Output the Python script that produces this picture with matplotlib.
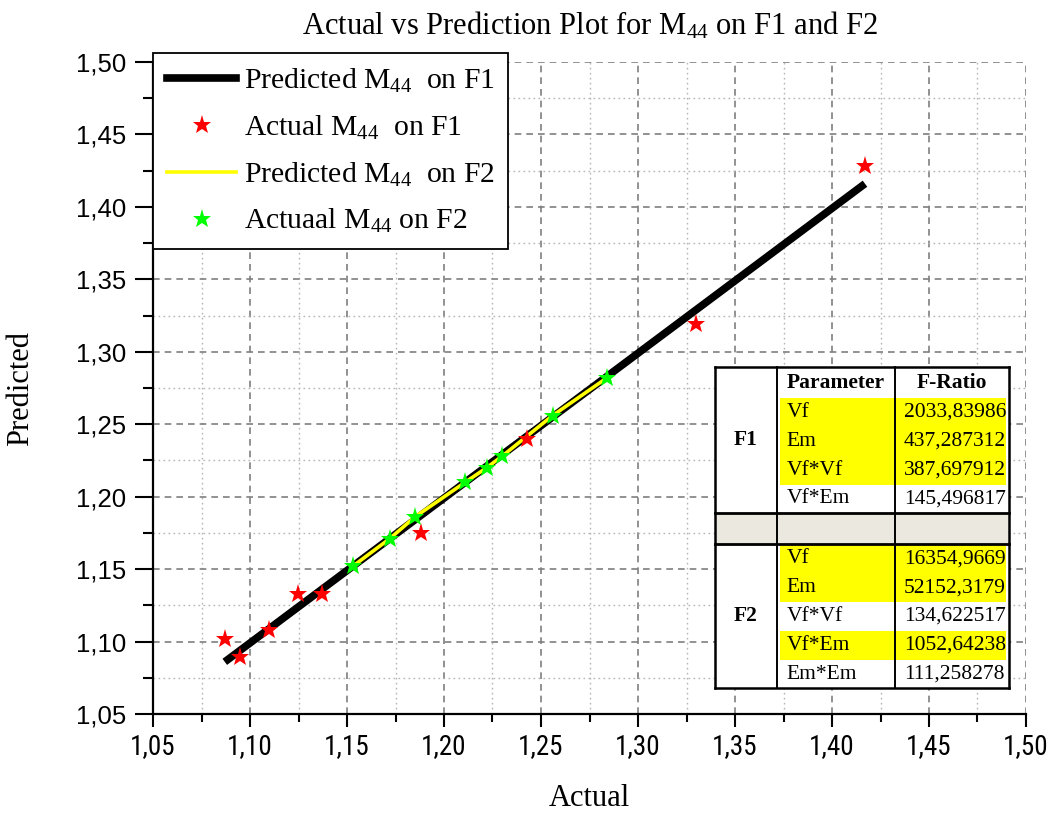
import matplotlib
matplotlib.use("Agg")
import matplotlib.pyplot as plt
from matplotlib.patches import Rectangle
from matplotlib.lines import Line2D
from matplotlib.ticker import MultipleLocator, FuncFormatter

plt.rcParams['mathtext.fontset'] = 'custom'
plt.rcParams['mathtext.rm'] = 'Liberation Serif'
plt.rcParams['mathtext.it'] = 'Liberation Serif:italic'
plt.rcParams['mathtext.bf'] = 'Liberation Serif:bold'

# F1 model: actual values, model line and measured points
f1_actual = [1.087, 1.095, 1.110, 1.125, 1.137, 1.188, 1.243, 1.330, 1.417]
f1_pred = [1.086, 1.094, 1.109, 1.124, 1.136, 1.187, 1.242, 1.329, 1.416]
f1_points = [1.102, 1.089, 1.108, 1.133, 1.133, 1.175, 1.240, 1.319, 1.428]

# F2 model
f2_actual = [1.153, 1.172, 1.185, 1.211, 1.222, 1.230, 1.256, 1.284]
f2_pred = [1.152, 1.171, 1.186, 1.210, 1.220, 1.228, 1.256, 1.282]

# ANOVA table
f1_params = ["Vf", "Em", "Vf*Vf", "Vf*Em"]
f1_ratio = ["2033,83986", "437,287312", "387,697912", "145,496817"]
f1_signif = [True, True, True, False]
f2_params = ["Vf", "Em", "Vf*Vf", "Vf*Em", "Em*Em"]
f2_ratio = ["16354,9669", "52152,3179", "134,622517", "1052,64238", "111,258278"]
f2_signif = [True, True, False, True, False]

SERIF = 'Liberation Serif'
SANS = 'Liberation Sans'
NARROW = ['Roboto Condensed', 'Archivo Narrow', 'PT Sans Narrow', 'Liberation Sans']
STAR = 14

fig = plt.figure(figsize=(10.47, 8.14), dpi=100)
ax = fig.add_axes([153 / 1047, 100 / 814, 873 / 1047, 652 / 814])

ax.plot(f1_actual, f1_pred, color='black', lw=5.5, solid_capstyle='butt', zorder=3)
ax.plot(f2_actual, f2_pred, color='#ffff00', lw=2.6, zorder=4)
ax.plot(f1_actual, f1_points, ls='none', marker='*', ms=STAR, mew=0, color='red', zorder=5)
ax.plot(f2_actual, f2_pred, ls='none', marker='*', ms=STAR, mew=0, color='#00ff00', zorder=6)

ax.set_xlim(1.05, 1.50)
ax.set_ylim(1.05, 1.50)
for axis in (ax.xaxis, ax.yaxis):
    axis.set_major_locator(MultipleLocator(0.05))
    axis.set_minor_locator(MultipleLocator(0.025))
    axis.set_major_formatter(FuncFormatter(lambda v, p: f"{v:.2f}".replace('.', ',')))

ax.grid(which='major', ls=(0, (4, 3)), color='#7f7f7f', lw=1.2, zorder=0)
ax.grid(which='minor', ls=(0, (1.2, 2.4)), color='#b5b5b5', lw=1.0, zorder=0)
ax.xaxis.get_major_ticks()[-1].gridline.set_visible(False)
ax.yaxis.get_major_ticks()[-1].gridline.set_visible(False)

for side in ('top', 'right'):
    ax.spines[side].set_visible(False)
for side in ('left', 'bottom'):
    ax.spines[side].set_linewidth(1.6)

ax.tick_params(axis='y', which='major', direction='out', length=13, width=1.5, pad=6)
ax.tick_params(axis='y', which='minor', direction='out', length=7, width=1.5)
ax.tick_params(axis='x', which='major', direction='out', length=9, width=1.5, pad=5)
ax.tick_params(axis='x', which='minor', direction='out', length=6, width=1.5)
for lab in ax.get_yticklabels():
    lab.set_fontfamily(SANS)
    lab.set_fontsize(18.5)
# condensed face on the x axis so the last label stays inside the canvas
for lab in ax.get_xticklabels():
    lab.set_fontfamily(NARROW)
    lab.set_fontsize(19.5)

ax.set_title("Actual vs Prediction Plot for M$_{44}$ on F1 and F2",
             fontfamily=SERIF, fontsize=22, pad=20)
ax.set_xlabel("Actual", fontfamily=SERIF, fontsize=22, labelpad=17)
ax.set_ylabel("Predicted", fontfamily=SERIF, fontsize=22, labelpad=30)

handles = [
    Line2D([], [], color='black', lw=5.5),
    Line2D([], [], ls='none', marker='*', ms=STAR, mew=0, color='red'),
    Line2D([], [], color='#ffff00', lw=2.6),
    Line2D([], [], ls='none', marker='*', ms=STAR, mew=0, color='#00ff00'),
]
labels = ["Predicted M$_{44}$  on F1", "Actual M$_{44}$  on F1",
          "Predicted M$_{44}$  on F2", "Actuaal M$_{44}$ on F2"]
leg = ax.legend(handles, labels, loc='upper left', bbox_to_anchor=(0, 1.014),
                borderaxespad=0, fancybox=False, framealpha=1, edgecolor='black',
                prop={'family': SERIF, 'size': 21.3}, handlelength=2.35,
                handletextpad=0.25, labelspacing=0.63, borderpad=0.47)
leg.get_frame().set_linewidth(1.3)
leg.set_zorder(10)

# table drawn in axes fraction coordinates
x0, x1, x2, x3 = 0.6438, 0.7148, 0.850, 0.9805
top = 0.532
head_h = 0.0475
row_h = 0.0442
grey_h = 0.0475
tfs = 15.5
tr = ax.transAxes


def cell(xa, ya, w, h, fc, z=11):
    ax.add_patch(Rectangle((xa, ya), w, h, transform=tr, facecolor=fc,
                           edgecolor='none', clip_on=False, zorder=z))


def hline(y, xa, xb, lw=1.6):
    ax.add_line(Line2D([xa, xb], [y, y], transform=tr, color='black', lw=lw,
                       clip_on=False, zorder=13))


def vline(x, ya, yb, lw=1.6):
    ax.add_line(Line2D([x, x], [ya, yb], transform=tr, color='black', lw=lw,
                       clip_on=False, zorder=13))


def put(x, y, s, ha='left', bold=False):
    ax.text(x, y, s, transform=tr, ha=ha, va='center', fontfamily=SERIF,
            fontsize=tfs, fontweight='bold' if bold else 'normal', zorder=14)


n1, n2 = len(f1_params), len(f2_params)
bottom = top - head_h - n1 * row_h - grey_h - n2 * row_h
cell(x0, bottom, x3 - x0, top - bottom, 'white')

# header row
y = top - head_h
put(x1 + 0.011, y + head_h / 2, "Parameter", bold=True)
put((x2 + x3) / 2, y + head_h / 2, "F-Ratio", ha='center', bold=True)

# F1 block
f1_top = y
for i, (p, r, s) in enumerate(zip(f1_params, f1_ratio, f1_signif)):
    yr = f1_top - (i + 1) * row_h
    if s:
        cell(x1 + 0.003, yr, x3 - x1 - 0.006, row_h, '#ffff00', z=12)
    put(x1 + 0.011, yr + row_h / 2, p)
    put(x2 + 0.010, yr + row_h / 2, r)
f1_bottom = f1_top - n1 * row_h
put((x0 + x1) / 2, (top + f1_bottom) / 2, "F1", ha='center', bold=True)

# separator row
grey_bottom = f1_bottom - grey_h
cell(x0, grey_bottom, x3 - x0, grey_h, '#ebe8e0', z=12)

# F2 block
for i, (p, r, s) in enumerate(zip(f2_params, f2_ratio, f2_signif)):
    yr = grey_bottom - (i + 1) * row_h
    if s:
        cell(x1 + 0.003, yr, x3 - x1 - 0.006, row_h, '#ffff00', z=12)
    put(x1 + 0.011, yr + row_h / 2, p)
    put(x2 + 0.010, yr + row_h / 2, r)
put((x0 + x1) / 2, (grey_bottom + bottom) / 2, "F2", ha='center', bold=True)

# table rules
hline(top, x0, x3, 1.8)
hline(bottom, x0, x3, 1.8)
hline(f1_bottom, x0, x3, 2.0)
hline(grey_bottom, x0, x3, 2.0)
vline(x0, bottom, top, 1.8)
vline(x3, bottom, top, 1.8)
vline(x1, bottom, top, 1.4)
vline(x2, bottom, top, 1.4)

fig.savefig("out.png", dpi=100)
